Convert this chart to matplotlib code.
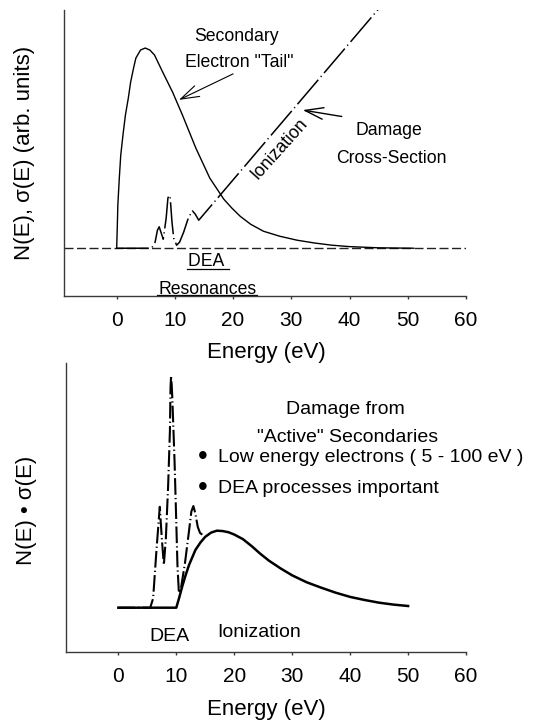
import matplotlib
matplotlib.use('Agg')
import matplotlib.pyplot as plt

plt.rcParams['font.family'] = ['Liberation Sans', 'DejaVu Sans']

# top panel: secondary electron distribution N(E)
n_energy = [0, 0.1, 0.2, 0.45, 0.7, 1.1, 1.5, 2.0, 2.4, 2.9, 3.3, 4.1, 4.9, 5.7,
            6.5, 7.9, 9.6, 11.3, 13.6, 16.0, 18.4, 19.8, 21.2, 23.0, 25.2, 28.0,
            31.0, 34.0, 37.0, 40.0, 45.0, 51.0]
n_value = [0, 0.1, 0.215, 0.35, 0.465, 0.57, 0.665, 0.75, 0.83, 0.9, 0.95, 0.99,
           1.0, 0.99, 0.965, 0.88, 0.78, 0.665, 0.5, 0.35, 0.245, 0.2, 0.16,
           0.12, 0.085, 0.06, 0.04, 0.026, 0.015, 0.008, 0.002, 0.0]

# top panel: damage cross-section sigma(E)
s_energy = [0, 6.0, 6.6, 7.0, 7.3, 8.0, 8.5, 8.8, 9.0, 9.2, 9.5, 9.8, 10.3, 10.8,
            11.5, 12.3, 13.0, 13.5, 14.1, 46.0]
s_value = [0, 0, 0.03, 0.09, 0.107, 0.045, 0.15, 0.25, 0.265, 0.25, 0.13, 0.05,
           0.015, 0.03, 0.08, 0.15, 0.187, 0.17, 0.14, 1.23]

# bottom panel: product N(E)*sigma(E), ionization part
ion_energy = [0, 10.0, 10.5, 11.0, 11.6, 12.2, 13.3, 14.2, 15.0, 16.0, 17.0, 18.0,
              19.0, 20.0, 21.5, 23.0, 24.5, 26.0, 28.0, 30.0, 32.5, 35.0, 37.5,
              40.0, 42.5, 45.0, 47.5, 50.0]
ion_value = [0, 0, 0.13, 0.27, 0.42, 0.555, 0.75, 0.85, 0.92, 0.975, 1.0, 0.995,
             0.98, 0.95, 0.89, 0.8, 0.7, 0.61, 0.51, 0.42, 0.33, 0.26, 0.195,
             0.14, 0.1, 0.065, 0.04, 0.022]

# bottom panel: DEA resonances
dea_energy = [0, 5.5, 6.0, 6.6, 7.15, 7.5, 7.85, 8.2, 8.6, 8.9, 9.0, 9.1, 9.2,
              9.3, 9.7, 10.0, 10.2, 10.45, 10.8, 11.5, 12.2, 12.6, 12.95, 13.3,
              13.7, 14.1, 15.0]
dea_value = [0, 0, 0.12, 0.77, 1.31, 0.9, 0.555, 0.9, 1.6, 2.3, 2.85, 3.01, 2.9,
             2.75, 1.9, 1.1, 0.55, 0.19, 0.25, 0.58, 1.0, 1.25, 1.32, 1.22,
             1.05, 0.97, 0.92]

xticks = [0, 10, 20, 30, 40, 50, 60]
spine_col = '#3a3a3a'

fig = plt.figure(figsize=(5.35, 7.24), dpi=100)
ax1 = fig.add_axes([0.1196, 0.5912, 0.7514, 0.395])
ax2 = fig.add_axes([0.1234, 0.0999, 0.7477, 0.3988])

for ax in (ax1, ax2):
    for side in ('top', 'right'):
        ax.spines[side].set_visible(False)
    for side in ('left', 'bottom'):
        ax.spines[side].set_color(spine_col)
        ax.spines[side].set_linewidth(1.0)
    ax.set_xticks(xticks)
    ax.set_yticks([])
    ax.tick_params(axis='x', direction='out', length=2.5, width=1,
                   color=spine_col, labelsize=15, pad=8.5)

# ---- top panel
ax1.set_xlim(-9.05, 60)
ax1.set_ylim(-0.2385, 1.19)
ax1.axhline(0, color='#222222', lw=1, dashes=(6.5, 2.5))
ax1.plot(n_energy, n_value, color='black', lw=1)
sig, = ax1.plot(s_energy, s_value, color='black', lw=1.1)
sig.set_dashes((21, 2.5, 0.8, 2.5))

ax1.text(20.6, 1.058, 'Secondary', fontsize=12.7, ha='center', va='center')
ax1.text(21.0, 0.927, 'Electron "Tail"', fontsize=12.7, ha='center', va='center')
ax1.annotate('', xy=(10.7, 0.741), xytext=(20.0, 0.871),
             arrowprops=dict(arrowstyle='->, head_length=1.1, head_width=0.35',
                             lw=0.8, color='black', shrinkA=0, shrinkB=0,
                             mutation_scale=12))
ax1.text(46.8, 0.586, 'Damage', fontsize=12.7, ha='center', va='center')
ax1.text(47.1, 0.446, 'Cross-Section', fontsize=12.7, ha='center', va='center')
ax1.annotate('', xy=(31.96, 0.69), xytext=(38.66, 0.658),
             arrowprops=dict(arrowstyle='->, head_length=1.1, head_width=0.35',
                             lw=1.0, color='black', shrinkA=0, shrinkB=0,
                             mutation_scale=12))
ax1.text(27.9, 0.495, 'Ionization', fontsize=12.7, ha='center', va='center',
         rotation=48, rotation_mode='anchor')
ax1.text(15.7, -0.067, 'DEA ', fontsize=12.7, ha='center', va='center')
ax1.plot([12.1, 19.35], [-0.105, -0.105], color='black', lw=0.9, clip_on=False)
ax1.text(15.6, -0.205, 'Resonances', fontsize=12.7, ha='center', va='center')
ax1.plot([7.0, 24.1], [-0.236, -0.236], color='black', lw=0.9, clip_on=False)

# ---- bottom panel
ax2.set_xlim(-9.03, 60)
ax2.set_ylim(-0.571, 3.178)
dea, = ax2.plot(dea_energy, dea_value, color='black', lw=1.5)
dea.set_dashes((8, 1.5, 0.6, 1.5))
ax2.plot(ion_energy, ion_value, color='black', lw=1.8)

ax2.text(39.1, 2.577, 'Damage from', fontsize=14, ha='center', va='center')
ax2.text(39.6, 2.213, '"Active" Secondaries', fontsize=14, ha='center', va='center')
ax2.text(14.56, 1.953, '\u2022', fontsize=20, ha='center', va='center')
ax2.text(17.26, 1.953, 'Low energy electrons ( 5 - 100 eV )', fontsize=14,
         ha='left', va='center')
ax2.text(14.56, 1.55, '\u2022', fontsize=20, ha='center', va='center')
ax2.text(17.26, 1.55, 'DEA processes important', fontsize=14,
         ha='left', va='center')
ax2.text(8.8, -0.377, 'DEA', fontsize=14, ha='center', va='center')
ax2.text(24.33, -0.325, 'Ionization', fontsize=14, ha='center', va='center')

# axis labels
fig.text(25 / 535, 1 - 153 / 724, 'N(E), \u03c3(E) (arb. units)', fontsize=16,
         rotation=90, ha='center', va='center')
fig.text(266 / 535, 1 - 353 / 724, 'Energy (eV)', fontsize=16,
         ha='center', va='center')
fig.text(26.7 / 535, 1 - 510 / 724, 'N(E) \u2022 \u03c3(E)', fontsize=16,
         rotation=90, ha='center', va='center')
fig.text(266 / 535, 1 - 710 / 724, 'Energy (eV)', fontsize=16,
         ha='center', va='center')

fig.savefig('out.png', dpi=100)
